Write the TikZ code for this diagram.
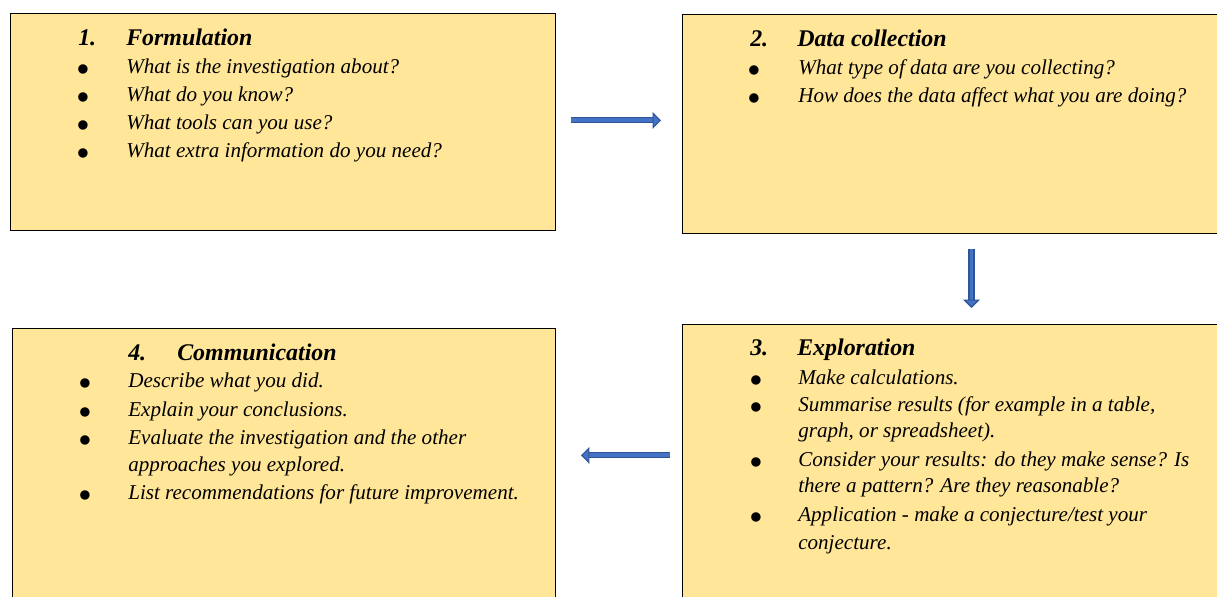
\documentclass[tikz,border=0pt]{standalone}
\usepackage{fontspec}
\setmainfont{Liberation Serif}
\usetikzlibrary{arrows.meta}
\definecolor{cardfill}{HTML}{FFE699}
\definecolor{arrowfill}{HTML}{4472C4}
\definecolor{arrowedge}{HTML}{2F5597}
\tikzset{
  card/.style = {draw = black, line width = 0.7pt, fill = cardfill, anchor = north west, inner sep = 0pt},
  ttl/.style = {anchor = base west, inner sep = 0pt, font = \fontsize{17}{20}\selectfont\bfseries\itshape},
  txt/.style = {anchor = base west, inner sep = 0pt, font = \fontsize{15}{18}\selectfont\itshape},
  dot/.style = {anchor = center, inner sep = 0pt, text height = 12pt, text depth = 0pt, font = \fontsize{28}{30}\selectfont},
  flow/.style = {draw = arrowedge, line width = 0.8pt, double = arrowfill, double distance = 2.8pt,
                 -{Triangle[length = 6pt, width = 12pt, fill = arrowfill]}}
}

\begin{document}
\begin{tikzpicture} [scale = 1]
\useasboundingbox (0, 0) rectangle (30.425, 14.925);
\clip (0, 0) rectangle (30.425, 14.925);

% the four boxes
\node[card, minimum width = 13.625cm, minimum height = 5.425cm] (form) at (0.25, 14.6){};
\node[card, minimum width = 14.45cm, minimum height = 5.475cm] (data) at (17.05, 14.575){};
\node[card, minimum width = 14.45cm, minimum height = 7.825cm] (expl) at (17.05, 6.825){};
\node[card, minimum width = 13.575cm, minimum height = 7.725cm] (comm) at (0.3, 6.725){};

% 1. Formulation
\node[ttl] (formnum) at (1.95, 13.775){1.};
\node[ttl] (formttl) at (3.15, 13.775){Formulation};
\node[dot] (formd1) at (2.075, 13.075){•};
\node[txt] (formt1) at (3.15, 13.075){What is the investigation about?};
\node[dot] (formd2) at (2.075, 12.375){•};
\node[txt] (formt2) at (3.15, 12.375){What do you know?};
\node[dot] (formd3) at (2.075, 11.675){•};
\node[txt] (formt3) at (3.15, 11.675){What tools can you use?};
\node[dot] (formd4) at (2.075, 10.975){•};
\node[txt] (formt4) at (3.15, 10.975){What extra information do you need?};

% 2. Data collection
\node[ttl] (datanum) at (18.75, 13.75){2.};
\node[ttl] (datattl) at (19.925, 13.75){Data collection};
\node[dot] (datad1) at (18.85, 13.05){•};
\node[txt] (datat1) at (19.95, 13.05){What type of data are you collecting?};
\node[dot] (datad2) at (18.85, 12.35){•};
\node[txt] (datat2) at (19.95, 12.35){How does the data affect what you are doing?};

% 3. Exploration
\node[ttl] (explnum) at (18.75, 6.025){3.};
\node[ttl] (explttl) at (19.925, 6.025){Exploration};
\node[dot] (expld1) at (18.9, 5.3){•};
\node[txt] (explt1) at (19.95, 5.3){Make calculations.};
\node[dot] (expld2) at (18.9, 4.625){•};
\node[txt] (explt2) at (19.95, 4.625){Summarise results (for example in a table,};
\node[txt] (explt2b) at (19.95, 3.975){graph, or spreadsheet).};
\node[dot] (expld3) at (18.9, 3.25){•};
\node[txt] (explt3) at (19.95, 3.25){Consider your results: do they make sense? Is};
\node[txt] (explt3b) at (19.95, 2.6){there a pattern? Are they reasonable?};
\node[dot] (expld4) at (18.9, 1.875){•};
\node[txt] (explt4) at (19.95, 1.875){Application - make a conjecture/test your};
\node[txt] (explt4b) at (19.95, 1.175){conjecture.};

% 4. Communication
\node[ttl] (commnum) at (3.2, 5.9){4.};
\node[ttl] (commttl) at (4.425, 5.9){Communication};
\node[dot] (commd1) at (2.1375, 5.225){•};
\node[txt] (commt1) at (3.2, 5.225){Describe what you did.};
\node[dot] (commd2) at (2.1375, 4.5){•};
\node[txt] (commt2) at (3.2, 4.5){Explain your conclusions.};
\node[dot] (commd3) at (2.1375, 3.8){•};
\node[txt] (commt3) at (3.2, 3.8){Evaluate the investigation and the other};
\node[txt] (commt3b) at (3.2, 3.125){approaches you explored.};
\node[dot] (commd4) at (2.1375, 2.425){•};
\node[txt] (commt4) at (3.2, 2.425){List recommendations for future improvement.};

% arrows between the boxes
\draw[flow, shorten <= 0.375cm, shorten >= 0.525cm] ([yshift = 0.04cm]form.east) -- ([yshift = 0.04cm]form.east -| data.west);
\draw[flow, shorten <= 0.375cm, shorten >= 0.4cm] (data.south) -- (data.south |- expl.north);
\draw[flow, shorten <= 0.3cm, shorten >= 0.625cm] ([yshift = 0.64cm]expl.west) -- ([yshift = 0.64cm]expl.west -| comm.east);
\end{tikzpicture}
\end{document}
